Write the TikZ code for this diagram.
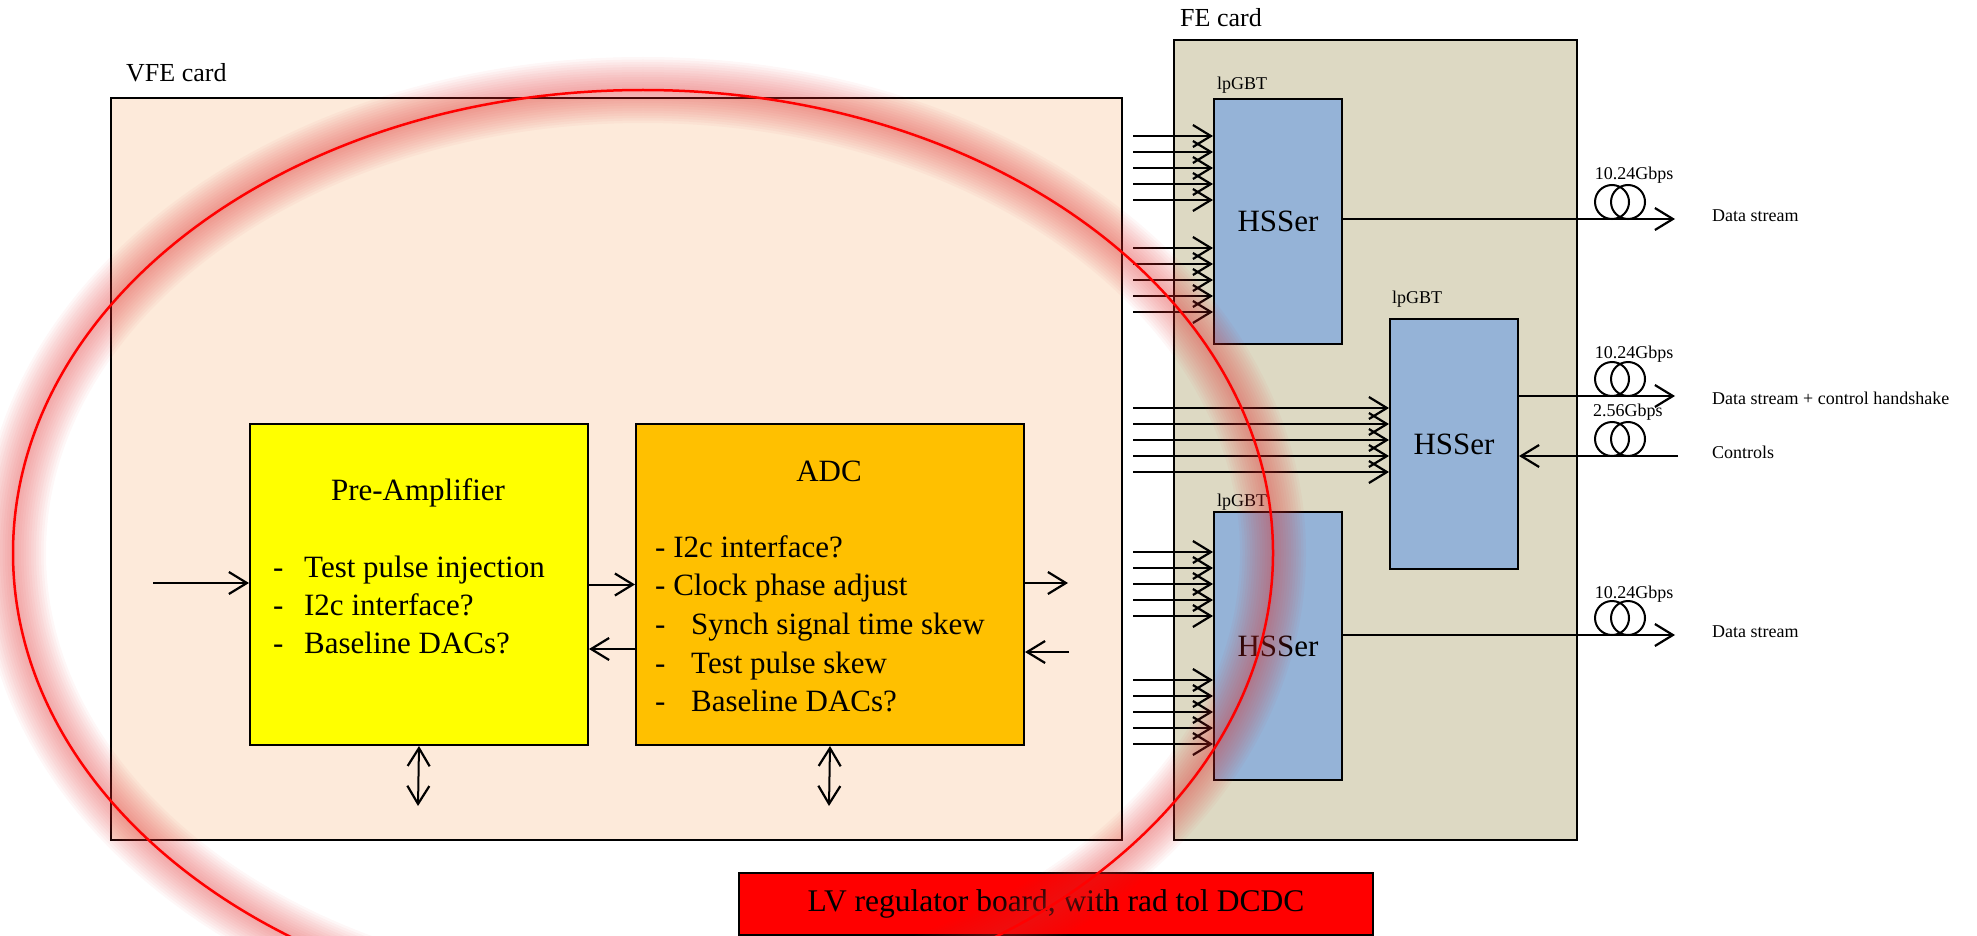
\documentclass[tikz,border=0pt]{standalone}
\usepackage{fontspec}
\setmainfont{Liberation Serif}
\usetikzlibrary{arrows.meta}
\definecolor{vfefill}{RGB}{253,234,218}
\definecolor{fefill}{RGB}{221,217,195}
\definecolor{hsblue}{RGB}{149,179,215}
\definecolor{adcorange}{RGB}{255,192,0}
\definecolor{payellow}{RGB}{255,255,0}
\definecolor{glowc}{RGB}{225,46,46}
\begin{document}
\begin{tikzpicture}[x=1pt,y=-1pt,
  box/.style={draw=black, line width=2pt, anchor=north west, inner sep=0pt},
  tip/.tip={Straight Barb[length=18pt,width=22pt,line width=2.2pt]},
  arr/.style={line width=2pt, -tip},
  biarr/.style={line width=2pt, tip-tip},
  coil/.style={circle, draw=black, line width=2pt, minimum size=34pt, inner sep=0pt},
  small/.style={font=\fontsize{18}{22}\selectfont, inner sep=0pt},
  big/.style={font=\fontsize{31}{38}\selectfont, inner sep=0pt},
  cardlbl/.style={font=\fontsize{26}{30}\selectfont, inner sep=0pt, anchor=base west}
]
\useasboundingbox (0,0) rectangle (1977,936);

% cards
\node[box, fill=vfefill, minimum width=1011pt, minimum height=742pt] (vfe) at (110,97) {};
\node[box, fill=fefill, minimum width=403pt, minimum height=800pt] (fe) at (1173,39) {};
\node[cardlbl] (vfel) at (126,82) {VFE card};
\node[cardlbl] (fel) at (1180,27) {FE card};

% VFE blocks
\node[box, fill=payellow, minimum width=338pt, minimum height=321pt] (pa) at (249,423) {};
\node[box, fill=adcorange, minimum width=388pt, minimum height=321pt] (adc) at (635,423) {};

\node[big, anchor=base] (pat) at (418,500) {Pre-Amplifier};
\node[big, anchor=base west] (pa1) at (273,577) {\makebox[31pt][l]{-}Test pulse injection};
\node[big, anchor=base west] (pa2) at (273,615) {\makebox[31pt][l]{-}I2c interface?};
\node[big, anchor=base west] (pa3) at (273,653) {\makebox[31pt][l]{-}Baseline DACs?};

\node[big, anchor=base] (adct) at (829,481) {ADC};
\node[big, anchor=base west] (adc1) at (655,557) {- I2c interface?};
\node[big, anchor=base west] (adc2) at (655,595) {- Clock phase adjust};
\node[big, anchor=base west] (adc3) at (655,634) {\makebox[36pt][l]{-}Synch signal time skew};
\node[big, anchor=base west] (adc4) at (655,673) {\makebox[36pt][l]{-}Test pulse skew};
\node[big, anchor=base west] (adc5) at (655,711) {\makebox[36pt][l]{-}Baseline DACs?};

% VFE connectors
\coordinate (pain) at (153,583);
\draw[arr] (pain) -- (pain -| pa.west);
\draw[arr] (pa.east) -- (adc.west);
\draw[arr] (adc.west |- 0,649) -- (pa.east |- 0,649);
\coordinate (adcout) at (1068,583);
\draw[arr] (adc.east |- adcout) -- (adcout);
\coordinate (adcin) at (1069,652);
\draw[arr] (adcin) -- (adcin -| adc.east);
\coordinate (pabot) at (418,806);
\draw[biarr] (pa.south) -- (pabot);
\coordinate (adcbot) at (829,806);
\draw[biarr] (adc.south) -- (adcbot);

% lpGBT blocks
\node[box, fill=hsblue, minimum width=128pt, minimum height=245pt, big] (hs1) at (1213,98) {HSSer};
\node[box, fill=hsblue, minimum width=128pt, minimum height=250pt, big] (hs2) at (1389,318) {HSSer};
\node[box, fill=hsblue, minimum width=128pt, minimum height=268pt, big] (hs3) at (1213,511) {HSSer};
\node[small, anchor=base west] (lp1) at (1217,90) {lpGBT};
\node[small, anchor=base west] (lp2) at (1392,303) {lpGBT};
\node[small, anchor=base west] (lp3) at (1217,506) {lpGBT};

\foreach \y [count=\i] in {136,152,168,184,200,248,264,280,296,312}{
  \coordinate (a\i) at (1133,\y);
  \draw[arr] (a\i) -- (a\i -| hs1.west);
}
\foreach \y [count=\i] in {408,424,440,456,472}{
  \coordinate (b\i) at (1133,\y);
  \draw[arr] (b\i) -- (b\i -| hs2.west);
}
\foreach \y [count=\i] in {552,568,584,600,616,680,696,712,728,744}{
  \coordinate (c\i) at (1133,\y);
  \draw[arr] (c\i) -- (c\i -| hs3.west);
}

% outputs
\coordinate (o1) at (1675,219);
\draw[arr] (hs1.east |- o1) -- (o1);
\coordinate (o2) at (1675,396);
\draw[arr] (hs2.east |- o2) -- (o2);
\coordinate (ctl) at (1678,456);
\draw[arr] (ctl) -- (ctl -| hs2.east);
\coordinate (o3) at (1675,635);
\draw[arr] (hs3.east |- o3) -- (o3);

% fibre coils
\node[coil] (k1a) at (1612,202) {};
\node[coil] (k1b) at (1628,202) {};
\node[coil] (k2a) at (1612,379) {};
\node[coil] (k2b) at (1628,379) {};
\node[coil] (k3a) at (1612,439) {};
\node[coil] (k3b) at (1628,439) {};
\node[coil] (k4a) at (1612,618) {};
\node[coil] (k4b) at (1628,618) {};

\node[small, anchor=base] (r1) at (1634,180) {10.24Gbps};
\node[small, anchor=base] (r2) at (1634,358) {10.24Gbps};
\node[small, anchor=base west] (r3) at (1593,416) {2.56Gbps};
\node[small, anchor=base] (r4) at (1634,598) {10.24Gbps};

\node[small, anchor=base west] (d1) at (1712,221) {Data stream};
\node[small, anchor=base west] (d2) at (1712,404) {Data stream + control handshake};
\node[small, anchor=base west] (d3) at (1712,458) {Controls};
\node[small, anchor=base west] (d4) at (1712,637) {Data stream};

% LV regulator
\node[box, fill=red, minimum width=634pt, minimum height=62pt, font=\fontsize{31.5}{38}\selectfont] (lv) at (738,872) {LV regulator board, with rad tol DCDC};

% glowing ellipse
\foreach \w in {66,61,...,6}{
  \draw[glowc, line width=\w pt, opacity=0.04] (643,553) ellipse [x radius=630pt, y radius=463pt];
}
\draw[red, line width=2.5pt] (643,553) ellipse [x radius=630pt, y radius=463pt];
\end{tikzpicture}
\end{document}
